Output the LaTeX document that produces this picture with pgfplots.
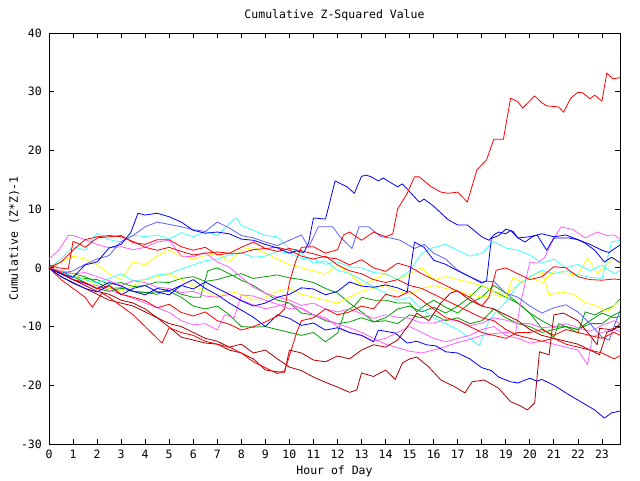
\documentclass[border=0pt]{standalone}
\usepackage{pgfplots}
\pgfplotsset{compat=1.18}
\usepackage{fontspec}
\setmainfont{DejaVu Sans Mono}
\definecolor{gred}{RGB}{255,0,0}
\definecolor{ggreen}{RGB}{0,160,0}
\definecolor{gblue}{RGB}{0,0,255}
\definecolor{gslate}{RGB}{96,96,255}
\definecolor{gmag}{RGB}{255,96,255}
\definecolor{gcyan}{RGB}{64,255,255}
\definecolor{gyellow}{RGB}{255,255,0}
\definecolor{gdark}{RGB}{170,0,0}
\begin{document}
\begin{tikzpicture}
\begin{axis}[
  scale only axis, width=571pt, height=411pt,
  xmin=0, xmax=23.75, ymin=-30, ymax=40,
  xtick={0,1,2,3,4,5,6,7,8,9,10,11,12,13,14,15,16,17,18,19,20,21,22,23},
  xticklabels={0,1,2,3,4,5,6,7,8,9,10,11,12,13,14,15,16,17,18,19,20,21,22,23},
  ytick={-30,-20,-10,0,10,20,30,40},
  yticklabels={-30,-20,-10,0,10,20,30,40},
  tick align=inside, major tick length=5pt,
  xtick pos=both, ytick pos=both,
  every tick/.style={black, line width=0.8pt},
  axis line style={line width=0.8pt},
  tick label style={font=\fontsize{11.5}{13}\selectfont, inner sep=0pt},
  xticklabel style={anchor=base, yshift=-14pt},
  yticklabel style={anchor=east, xshift=-7pt},
  title={Cumulative Z-Squared Value},
  title style={at={(axis description cs:0.5,1.0195)}, anchor=base, inner sep=0pt, font=\fontsize{11.5}{13}\selectfont},
  xlabel={Hour of Day},
  xlabel style={at={(axis description cs:0.5,-0.073)}, anchor=base, inner sep=0pt, font=\fontsize{11.5}{13}\selectfont},
  ylabel={Cumulative (Z*Z)-1},
  ylabel style={at={(axis description cs:-0.0543,0.5)}, anchor=base, inner sep=0pt, font=\fontsize{11.5}{13}\selectfont},
  every axis plot/.append style={line width=0.8pt, line join=round},
]
% green
\addplot[ggreen] coordinates {(0,0)(0.5,-1)(1,-1.5)(1.5,-2.5)(2,-3.5)(2.5,-4)(3,-3.5)(3.5,-4)(4,-4.2)(4.5,-4.5)(5,-3.5)(5.5,-4.5)(6,-5)(6.3,-5)(6.6,-0.5)(7,0)(7.5,-1)(8,-2.1)(8.5,-3)(9,-4.3)(9.5,-5.5)(10,-6)(10.5,-7.7)(11,-8)(11.5,-9)(12,-9.5)(12.5,-9.2)(13,-8.5)(13.5,-9.2)(14,-8.5)(14.5,-7)(15,-6.5)(15.5,-7.5)(16,-6.7)(16.5,-7.7)(17,-6.5)(17.5,-5)(18,-3)(18.5,-4)(19,-5)(19.5,-6)(20,-7.7)(20.5,-9)(21,-10.1)(21.5,-10)(22,-11.1)(22.3,-7.5)(22.7,-8)(23.2,-7)(23.5,-6.5)(23.75,-5.3)};
\addplot[ggreen] coordinates {(0,0)(0.5,-0.5)(1,-1)(1.5,-1.5)(2,-2.5)(2.5,-3.5)(3,-3.4)(3.5,-4)(4,-4.2)(4.5,-4.1)(5,-4)(5.5,-5)(6,-6.5)(6.5,-7)(7,-6.5)(7.5,-8)(8,-10)(8.5,-10.1)(9,-10)(9.5,-10.5)(10,-11)(10.5,-11.5)(11,-11)(11.5,-12.6)(12,-11.1)(12.3,-7.5)(12.7,-6.5)(13,-5)(13.5,-5.5)(14,-5.5)(14.5,-6)(15,-6)(15.3,-7.5)(15.6,-6.5)(16,-5.5)(16.5,-6.7)(17,-7.7)(17.5,-6)(18,-5)(18.5,-3)(19,-4.3)(19.5,-6)(20,-7.7)(20.5,-10.3)(21,-11.8)(21.2,-9.5)(21.5,-10)(22,-10.5)(22.5,-9)(23,-7.7)(23.5,-8.5)(23.75,-8.3)};
\addplot[ggreen] coordinates {(0,0)(0.5,-0.6)(1,-1.5)(1.5,-1.8)(2,-2)(2.5,-2.8)(3,-2.5)(3.5,-3.2)(4,-3)(4.5,-2.4)(5,-2.5)(5.5,-1.8)(6,-1.5)(6.5,-2.3)(7,-2)(7.5,-1.4)(8,-1)(8.5,-1.8)(9,-1.5)(9.5,-1.2)(10,-1.7)(10.5,-2)(11,-2.5)(11.5,-3.5)(12,-4.3)(12.5,-6)(13,-7.5)(13.5,-9.2)(14,-9)(14.5,-9.5)(15,-8)(15.5,-8.5)(16,-8)(16.5,-9)(17,-8.5)(17.5,-9.5)(18,-9)(18.5,-7)(19,-8.5)(19.5,-9.5)(20,-10)(20.5,-11)(21,-10.5)(21.5,-10)(22,-10.5)(22.5,-9.5)(23,-9.5)(23.5,-8)(23.75,-7.5)};
% yellow
\addplot[gyellow] coordinates {(0,0)(0.5,1)(1,2)(1.5,1.5)(2,0.5)(2.5,-1)(3,-2)(3.5,1)(4,0.5)(4.5,2)(5,3)(5.5,2)(6,1.5)(6.5,2.1)(7,2.5)(7.5,1)(8,3)(8.5,3.5)(9,2.5)(9.5,1.5)(10,0.5)(10.5,0)(11,-0.5)(11.5,-1.1)(12,0.5)(12.5,-1)(13,-3)(13.5,-2)(14,-1)(14.5,-2)(15,-1)(15.5,0)(16,-2)(16.5,-1.5)(17,-2)(17.5,-2.5)(18,-3)(18.5,-4)(19,-4.5)(19.5,-3)(20,-1.6)(20.5,-2.5)(21,-0.6)(21.5,-1)(22,-1.2)(22.4,1.7)(22.8,-0.9)(23.2,0.5)(23.5,1.7)(23.75,0.5)};
\addplot[gyellow] coordinates {(0,0)(0.5,-0.5)(1,-1)(1.5,-2)(2,-3)(2.5,-3.5)(3,-4)(3.5,-3)(4,-2)(4.5,-1.5)(5,-1)(5.5,-2)(6,-3)(6.5,-4)(7,-5)(7.5,-4)(8,-4.5)(8.5,-5.5)(9,-5)(9.5,-4)(10,-3.5)(10.5,-4.5)(11,-5)(11.5,-5.5)(12,-6)(12.5,-5)(13,-4)(13.5,-3.5)(14,-3)(14.5,-4)(15,-4.5)(15.5,-3.5)(16,-3)(16.5,-3.5)(17,-4)(17.5,-4.5)(18,-5)(18.5,-4.6)(19,-5.1)(19.3,-1.6)(19.7,-2.5)(20,-1.5)(20.5,-0.6)(20.8,-4.6)(21.3,-4.1)(21.8,-4.5)(22.3,-5.9)(22.8,-6.5)(23.2,-7.5)(23.5,-6.5)(23.75,-5.5)};
% cyan
\addplot[gcyan] coordinates {(0,0)(0.5,1.5)(1,3.6)(1.5,3)(2,5.9)(2.5,4.8)(3,4.4)(3.5,5.6)(4,5.3)(4.5,5.6)(5,4.9)(5.5,6)(6,5.3)(6.5,6.2)(7,5.5)(7.5,7.6)(7.8,8.5)(8,7.2)(8.5,6.4)(9,5.5)(9.5,5.3)(10,3.3)(10.5,2.5)(11,0.8)(11.5,1.2)(12,-0.4)(12.5,-1)(13,-2)(13.5,-3.3)(14,-4.3)(14.5,-5.5)(15,-5)(15.5,-7)(16,-8.5)(16.5,-9.5)(17,-10.5)(17.5,-12)(17.9,-13.3)(18.3,-8.9)(18.6,-7.5)(19,-5.8)(19.5,-2.9)(20,-1.5)(20.5,-0.4)(21,-1)(21.5,-0.5)(22,-1.2)(22.5,-1.6)(23,-1.8)(23.4,4.4)(23.75,4.7)};
\addplot[gcyan] coordinates {(0,0)(0.5,-0.8)(1,-1.5)(1.5,-2)(2,-2.6)(2.5,-1.8)(3,-1)(3.5,-2.2)(4,-2)(4.5,-1.2)(5,-1)(5.5,-0.2)(6,0.5)(6.5,1.2)(7,1.5)(7.5,2.2)(8,2.6)(8.5,1.8)(9,2)(9.5,2.8)(10,2.5)(10.5,1.6)(11,1.5)(11.5,0.6)(12,1)(12.5,0.2)(13,0)(13.5,-0.8)(14,-1)(14.5,-2)(15,-0.5)(15.5,2.5)(16,3.5)(16.5,4)(17,3)(17.5,2)(18,2.5)(18.5,4.5)(19,3.4)(19.5,3)(20,2.2)(20.5,0.8)(21,1.5)(21.5,0)(22,0.6)(22.5,-0.5)(23,0.5)(23.5,-1)(23.75,-0.5)};
% magenta
\addplot[gmag] coordinates {(0,0)(0.5,-0.5)(1,-1)(1.5,-0.8)(2,-1.5)(2.5,-2.2)(3,-3)(3.5,-2.2)(4,-2.5)(4.5,-3.3)(5,-3.5)(5.5,-4.2)(6,-4)(6.5,-4.8)(7,-5)(7.5,-4.5)(8,-5.5)(8.5,-6.3)(9,-7)(9.5,-6.5)(10,-6)(10.5,-7)(11,-8)(11.5,-8.8)(12,-9.5)(12.5,-10.2)(13,-11)(13.5,-12)(14,-13)(14.5,-13.6)(15,-14.2)(15.5,-14.5)(16,-14)(16.5,-13.4)(17,-12.7)(17.5,-12.2)(18,-11.5)(18.5,-11.2)(19,-11)(19.4,-11.2)(19.6,-6.3)(20,1)(20.3,0.8)(20.6,1.7)(21,5)(21.3,7)(21.8,6.5)(22.3,5.1)(22.8,6.1)(23.2,5.5)(23.5,5.6)(23.75,4.9)};
\addplot[gmag] coordinates {(0,1.5)(0.4,3)(0.8,5.5)(1,5.5)(1.5,4.8)(2,4)(2.5,3.4)(3,3.6)(3.5,3.1)(4,3.5)(4.5,4.4)(5,4.7)(5.5,2)(6,1.9)(6.5,2.6)(7,1)(7.5,0.1)(8,-1.6)(8.5,-3.3)(9,-4.3)(9.5,-5)(10,-5.5)(10.5,-6.4)(11,-6)(11.5,-7)(12,-7.5)(12.5,-7)(13,-7.8)(13.5,-8.6)(14,-8)(14.5,-8.4)(15,-8.6)(15.5,-9.4)(16,-9.4)(16.5,-8.8)(17,-9)(17.5,-9.8)(18,-9.4)(18.5,-8.5)(19,-8.9)(19.5,-9.5)(20,-9.5)(20.5,-10.2)(21,-10)(21.5,-9.5)(22,-10.2)(22.5,-10.8)(23,-9.8)(23.5,-9)(23.75,-9.5)};
\addplot[gmag] coordinates {(0,0)(0.5,-1)(1,-2)(1.5,-2.8)(2,-3)(2.5,-3.8)(3,-4.5)(3.5,-5.2)(4,-6)(4.5,-6.8)(5,-7.6)(5.5,-9)(6,-9.7)(6.5,-9.5)(7,-10.6)(7.3,-8)(7.7,-8.5)(8,-4.6)(8.5,-4.8)(9,-5.5)(9.5,-6.2)(10,-7)(10.5,-6.8)(11,-8)(11.5,-8.5)(12,-10)(12.5,-11)(13,-11.5)(13.5,-12.5)(14,-12)(14.5,-11)(15,-10)(15.5,-11)(16,-12)(16.5,-12.6)(17,-12)(17.5,-11.5)(18,-10.5)(18.5,-10)(19,-11.5)(19.5,-12)(20,-12.8)(20.5,-12.5)(21,-13)(21.5,-13.5)(22,-14)(22.4,-16.5)(22.6,-11.8)(23,-11)(23.5,-10.5)(23.75,-10.8)};
% slate blue
\addplot[gslate] coordinates {(0,0)(0.5,-1)(1,-0.5)(1.5,0.6)(2,1.5)(2.5,2.1)(3,4.5)(3.5,5.5)(4,7)(4.5,7.8)(5,7.4)(5.5,7)(6,6.5)(6.5,6.2)(7,7.8)(7.5,6.8)(8,5.5)(8.5,5.1)(9,4.4)(9.5,3.8)(10,4.7)(10.5,5.6)(10.8,3.5)(11.2,7)(11.8,7)(12.1,5.3)(12.6,3.3)(12.9,7)(13.3,7)(13.8,5.3)(14.2,5.1)(14.6,4.7)(15.2,3.3)(15.6,4)(16,2.5)(16.5,1.5)(17,-0.4)(17.5,-1.5)(18,-2.4)(18.5,-2.3)(19,-4.3)(19.5,-5)(20,-6.5)(20.5,-7.7)(21,-6.8)(21.5,-6.3)(22,-7.5)(22.5,-9.5)(23,-11.8)(23.3,-12.3)(23.5,-10)(23.75,-7.3)};
% dark red
\addplot[gdark] coordinates {(0,0)(0.5,-1.5)(1,-2.5)(1.5,-3.5)(2,-4.5)(2.5,-5.5)(3,-6)(3.5,-6.5)(4,-7.5)(4.5,-8.5)(5,-9.5)(5.5,-10)(6,-11)(6.5,-12)(7,-12.5)(7.5,-13.5)(8,-13)(8.5,-14.5)(9,-14)(9.5,-15.5)(10,-16.9)(10.5,-17.5)(11,-18.6)(11.5,-19.5)(12,-20.3)(12.5,-21.2)(12.8,-20.8)(13,-17.9)(13.5,-18.5)(14,-17.4)(14.4,-19)(14.7,-16.2)(15,-15.5)(15.3,-15.2)(15.8,-16.9)(16.3,-19.1)(16.9,-20.3)(17.3,-21.3)(17.6,-19.4)(18.1,-19.1)(18.7,-20.5)(19.2,-22.8)(19.6,-23.5)(19.9,-24.2)(20.2,-23)(20.4,-14.3)(20.8,-14.8)(21,-8)(21.4,-7.7)(22,-9)(22.5,-11.5)(22.8,-13.1)(22.9,-10.3)(23.3,-10.5)(23.75,-10.1)};
\addplot[gdark] coordinates {(0,0)(0.5,-1)(1,-2)(1.5,-3)(2,-4)(2.5,-4.5)(3,-5.5)(3.5,-6)(4,-7)(4.5,-8.5)(5,-10.1)(5.5,-11.8)(6,-12.3)(6.5,-12.8)(7,-13)(7.5,-14)(8,-14.5)(8.5,-15.5)(9,-17.4)(9.5,-17.7)(9.8,-17.8)(10,-14)(10.5,-14.5)(11,-15.7)(11.5,-16)(12,-15)(12.5,-15.5)(13,-14)(13.5,-13.1)(14,-13.5)(14.5,-12.3)(15,-9.5)(15.3,-7.7)(15.8,-9)(16.3,-6)(16.7,-4.3)(17,-3.9)(17.5,-5.5)(18,-6.5)(18.5,-7)(19,-8)(19.5,-9)(20,-10.5)(20.5,-11.5)(21,-12)(21.5,-12.5)(22,-13)(22.5,-14)(22.9,-14.8)(23.2,-11)(23.5,-10.5)(23.75,-9.5)};
% red
\addplot[gred] coordinates {(0,0.5)(0.4,0)(0.8,-0.2)(1,4.5)(1.3,4)(1.5,3.5)(2,5.1)(2.5,5.3)(3,5.5)(3.5,4.3)(4,4)(4.5,4.8)(5,4.8)(5.5,3.6)(6,3)(6.5,3.5)(7,2.2)(7.5,2.5)(8,2.5)(8.5,3.1)(9,3.3)(9.5,2.8)(10,3.3)(10.5,2.9)(11,2.4)(11.5,1.8)(12,1.5)(12.5,0.5)(13,1.4)(13.5,0)(14,-0.6)(14.5,0.8)(15,0.2)(15.5,-1)(16,-2)(16.5,-3)(17,-4)(17.5,-5)(18,-6.5)(18.3,-5)(18.6,-0.4)(19,0)(19.5,-1)(20,-2)(20.5,-1.5)(21,0.2)(21.5,0)(22,-1.5)(22.5,-2)(23,-2.1)(23.5,-1.9)(23.75,-2)};
\addplot[gred] coordinates {(0,0)(0.5,1)(1,3)(1.5,4.8)(2,5.3)(2.5,5.5)(3,5.3)(3.5,4.5)(4,3.5)(4.5,3)(5,3.5)(5.5,2.8)(6,2.2)(6.5,2.5)(7,2.7)(7.5,2.5)(8,3.5)(8.5,4.4)(9,3.3)(9.5,3.5)(10,3)(10.5,2)(11,1.5)(11.5,2)(12,0.5)(12.5,-0.5)(13,-1)(13.5,-2)(14,-2.5)(14.5,-2)(15,-3)(15.5,-3.5)(16,-4.5)(16.5,-5.5)(17,-6.5)(17.5,-7.5)(18,-8.5)(18.5,-9)(19,-10.5)(19.5,-11.5)(20,-12)(20.5,-12.5)(21,-12)(21.5,-13)(22,-13.5)(22.5,-14)(23,-14.5)(23.5,-15.5)(23.75,-15)};
\addplot[gred] coordinates {(0,0)(0.5,-2)(1,-3.5)(1.5,-5)(1.8,-6.7)(2.2,-4.3)(2.5,-5)(3,-6.5)(3.5,-8)(4,-10)(4.7,-12.8)(5,-10.2)(5.5,-11)(6,-11.5)(6.5,-12.5)(7,-13)(7.5,-13.5)(8,-14.5)(8.5,-16)(9,-17)(9.5,-18)(9.8,-17.5)(10,-15)(10.3,-11)(10.5,-9)(11,-8.5)(11.5,-7)(12,-8)(12.5,-7.5)(13,-6.5)(13.5,-7)(14,-4.5)(14.5,-5)(15,-4)(15.5,-5.5)(16,-7)(16.5,-8.5)(17,-9)(17.5,-10)(18,-11)(18.5,-11.5)(19,-12)(19.5,-11)(20,-11)(20.5,-10.5)(21,-11.5)(21.5,-10.5)(22,-11)(22.5,-11.5)(23,-12)(23.5,-11)(23.75,-11.5)};
% blue
\addplot[gblue] coordinates {(0,0)(0.5,-1)(1,-2)(1.5,-2.6)(2,-3.5)(2.5,-2.5)(3,-3.1)(3.5,-4)(4,-4.6)(4.5,-3.5)(5,-3.9)(5.5,-3)(6,-2)(6.5,-3.5)(7,-4.6)(7.5,-6)(8,-7.2)(8.5,-8.4)(9,-10)(9.5,-8)(10,-8.6)(10.5,-9.8)(11,-9.4)(11.5,-10.6)(12,-10.2)(12.5,-11)(13,-11.5)(13.5,-12.6)(13.7,-10.6)(14,-10.8)(14.4,-11.1)(14.9,-12.8)(15.3,-12.5)(15.7,-13.1)(16.1,-13.3)(16.5,-14.3)(17,-14.5)(17.5,-15.5)(18,-17)(18.4,-17.5)(18.7,-18.6)(19.2,-19.4)(19.5,-19.6)(20,-18.8)(20.3,-19.3)(20.5,-19)(21,-20)(21.5,-21.3)(22.2,-23)(22.7,-24.2)(23.1,-25.6)(23.4,-24.7)(23.75,-24.4)};
\addplot[gblue] coordinates {(0,0)(0.5,-1.5)(1,-2.6)(1.5,-3.5)(2,-4.1)(2.5,-3)(3,-4.6)(3.5,-3.5)(4,-3)(4.5,-4.1)(5,-4.6)(5.5,-3)(6,-3.6)(6.5,-2.4)(7,-3.5)(7.5,-4.5)(8,-5.6)(8.5,-6.5)(9,-6)(9.5,-5)(10,-4.5)(10.5,-3.4)(11,-3.6)(11.5,-4.6)(12,-4)(12.5,-2.4)(13,-3.1)(13.5,-3.3)(14,-2.9)(14.5,-3.4)(14.9,-4.1)(15.2,4.4)(15.6,3.5)(16,1.3)(16.5,0.6)(17,-0.5)(17.5,-1.5)(18,-2.6)(18.2,-2.2)(18.4,5)(18.7,5.5)(19,6.6)(19.3,6.2)(19.5,5.1)(20,5.3)(20.5,5.8)(21,5.3)(21.5,5.6)(22,4.8)(22.5,4)(23,3)(23.3,2.6)(23.5,3.2)(23.75,3.9)};
\addplot[gblue] coordinates {(0,0)(0.5,-1)(1,-1.6)(1.5,0.5)(2,1)(2.5,3.4)(3,4)(3.4,6)(3.7,9.3)(4,9)(4.5,9.3)(5,8.7)(5.5,7.8)(6,6.4)(6.5,5.9)(7,6.1)(7.5,5.8)(8,4.9)(8.5,4.7)(9,4)(9.5,3.4)(10,2.5)(10.3,2.9)(10.6,2.6)(10.8,4.3)(11,8.5)(11.5,8.3)(11.9,14.8)(12.4,13.8)(12.7,12.7)(13,15.6)(13.2,15.8)(13.4,15.5)(13.7,14.8)(13.9,15.3)(14.5,13.8)(14.7,14.3)(15.4,11.2)(15.6,11.7)(16,10.5)(16.6,8.2)(17,7.3)(17.4,7.3)(18,5.3)(18.3,4.7)(18.5,5.6)(18.7,6.1)(19,5.8)(19.2,6.4)(19.5,5.1)(19.8,4.4)(20.1,5.3)(20.3,5.6)(20.7,3)(21,5.1)(21.6,5.1)(22,4.8)(22.3,4.2)(22.7,3)(23.1,1)(23.4,1.8)(23.75,0.9)};
% big red
\addplot[gred] coordinates {(0,0)(0.5,-0.8)(1,-2)(1.5,-2.5)(2,-3.6)(2.5,-3)(3,-4.5)(3.5,-5)(4,-5.6)(4.5,-6.8)(5,-6.2)(5.5,-7.6)(6,-8.2)(6.5,-7.5)(7,-9)(7.5,-9.6)(8,-10.6)(8.5,-10)(9,-9.2)(9.5,-8.2)(9.8,-7)(10,-2.5)(10.25,1)(10.5,3.5)(11,3.6)(11.5,2.5)(12,3.1)(12.25,5.6)(12.5,6.1)(13,4.7)(13.5,6.1)(14,5.3)(14.3,5.8)(14.5,10)(14.9,12.7)(15.2,15.5)(15.4,15.5)(15.9,13.8)(16.3,12.9)(16.6,12.7)(17,12.9)(17.4,11.2)(17.8,16.7)(18.2,18.4)(18.5,21.9)(18.9,21.9)(19.2,28.9)(19.5,28.3)(19.7,27.2)(20.2,29.3)(20.5,28.1)(20.7,27.6)(21.2,27.4)(21.4,26.5)(21.7,28.9)(22,29.9)(22.2,29.8)(22.5,28.8)(22.7,29.4)(23,28.4)(23.2,33.2)(23.45,32.2)(23.75,32.4)};
\end{axis}
\pgfresetboundingbox
\path[use as bounding box] ([shift={(-49pt,-36pt)}]current axis.south west) rectangle ([shift={(20pt,33pt)}]current axis.north east);
\end{tikzpicture}
\end{document}
